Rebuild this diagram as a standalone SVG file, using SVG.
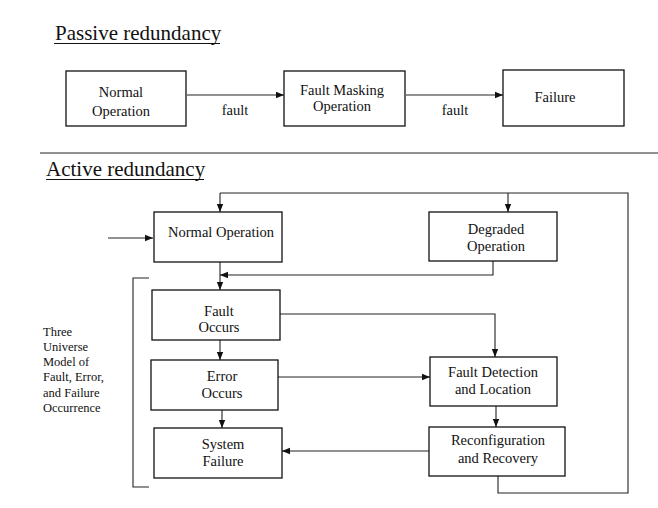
<svg xmlns="http://www.w3.org/2000/svg" width="658" height="508" viewBox="0 0 658 508">
<defs>
<marker id="ah" viewBox="0 0 8 8" refX="8" refY="4" markerWidth="8" markerHeight="8" markerUnits="userSpaceOnUse" orient="auto">
<path d="M0,0.8 L8,4 L0,7.2 Z" fill="#111"/>
</marker>
<style>
.box{fill:#fff;stroke:#111;stroke-width:1.3}
.t{font-family:"Liberation Serif","Times New Roman",serif;font-size:14.5px;fill:#111;text-anchor:middle}
.s{font-family:"Liberation Serif","Times New Roman",serif;font-size:12.5px;fill:#111}
.h{font-family:"Liberation Serif","Times New Roman",serif;font-size:21px;fill:#111}
.c{fill:none;stroke:#222;stroke-width:1.1}
.a{marker-end:url(#ah)}
</style>
</defs>
<rect width="658" height="508" fill="#fff"/>

<text class="h" x="55" y="40">Passive redundancy</text>
<line x1="54" y1="43.5" x2="220" y2="43.5" stroke="#111" stroke-width="1.2"/>
<text class="h" x="46" y="176">Active redundancy</text>
<line x1="46" y1="179.5" x2="204" y2="179.5" stroke="#111" stroke-width="1.2"/>
<line x1="40" y1="153" x2="658" y2="153" stroke="#222" stroke-width="1.2"/>

<g id="connectors">
<path class="c a" d="M187,95 L284,95"/>
<path class="c a" d="M406,95 L503,95"/>
<text class="t" x="235" y="115">fault</text>
<text class="t" x="455" y="115">fault</text>

<path class="c a" d="M108,238 L153,238"/>
<path class="c a" d="M220,193 L220,212"/>
<path class="c" d="M220,193 L628,193 L628,493 L498,493 L498,476"/>
<path class="c a" d="M508,193 L508,212"/>
<path class="c a" d="M220,262 L220,290"/>
<path class="c a" d="M493,261 L493,275 L220,275"/>
<path class="c a" d="M280,314 L495,314 L495,357"/>
<path class="c a" d="M220,340 L220,360"/>
<path class="c a" d="M278,377 L430,377"/>
<path class="c a" d="M222,410 L222,428"/>
<path class="c a" d="M496,406 L496,427"/>
<path class="c a" d="M429,451 L282,451"/>
<path class="c" d="M149,278 L133,278 L133,487 L149,487"/>
</g>

<g id="p-normal"><rect class="box" x="66" y="71" width="120" height="55"/><text class="t" x="121" y="97">Normal</text><text class="t" x="121" y="116">Operation</text></g>
<g id="p-masking"><rect class="box" x="284" y="71" width="121" height="55"/><text class="t" x="342" y="95">Fault Masking</text><text class="t" x="342" y="111">Operation</text></g>
<g id="p-failure"><rect class="box" x="503" y="70" width="121" height="56"/><text class="t" x="555" y="102">Failure</text></g>

<g id="a-normal"><rect class="box" x="154" y="212" width="128" height="50"/><text class="t" x="221" y="237">Normal Operation</text></g>
<g id="a-degraded"><rect class="box" x="429" y="212" width="128" height="49"/><text class="t" x="496" y="234">Degraded</text><text class="t" x="496" y="251">Operation</text></g>
<g id="a-fault"><rect class="box" x="152" y="290" width="128" height="50"/><text class="t" x="219" y="316">Fault</text><text class="t" x="219" y="332">Occurs</text></g>
<g id="a-error"><rect class="box" x="151" y="360" width="127" height="50"/><text class="t" x="222" y="381">Error</text><text class="t" x="222" y="398">Occurs</text></g>
<g id="a-sysfail"><rect class="box" x="154" y="428" width="128" height="50"/><text class="t" x="223" y="449">System</text><text class="t" x="223" y="466">Failure</text></g>
<g id="a-detect"><rect class="box" x="430" y="357" width="127" height="49"/><text class="t" x="493" y="377">Fault Detection</text><text class="t" x="493" y="394">and Location</text></g>
<g id="a-reconf"><rect class="box" x="429" y="427" width="136" height="49"/><text class="t" x="498" y="445">Reconfiguration</text><text class="t" x="498" y="463">and Recovery</text></g>

<g id="label">
<text class="s" x="43" y="336">Three</text>
<text class="s" x="43" y="351">Universe</text>
<text class="s" x="43" y="366">Model of</text>
<text class="s" x="43" y="381">Fault, Error,</text>
<text class="s" x="43" y="397">and Failure</text>
<text class="s" x="43" y="412">Occurrence</text>
</g>
</svg>
